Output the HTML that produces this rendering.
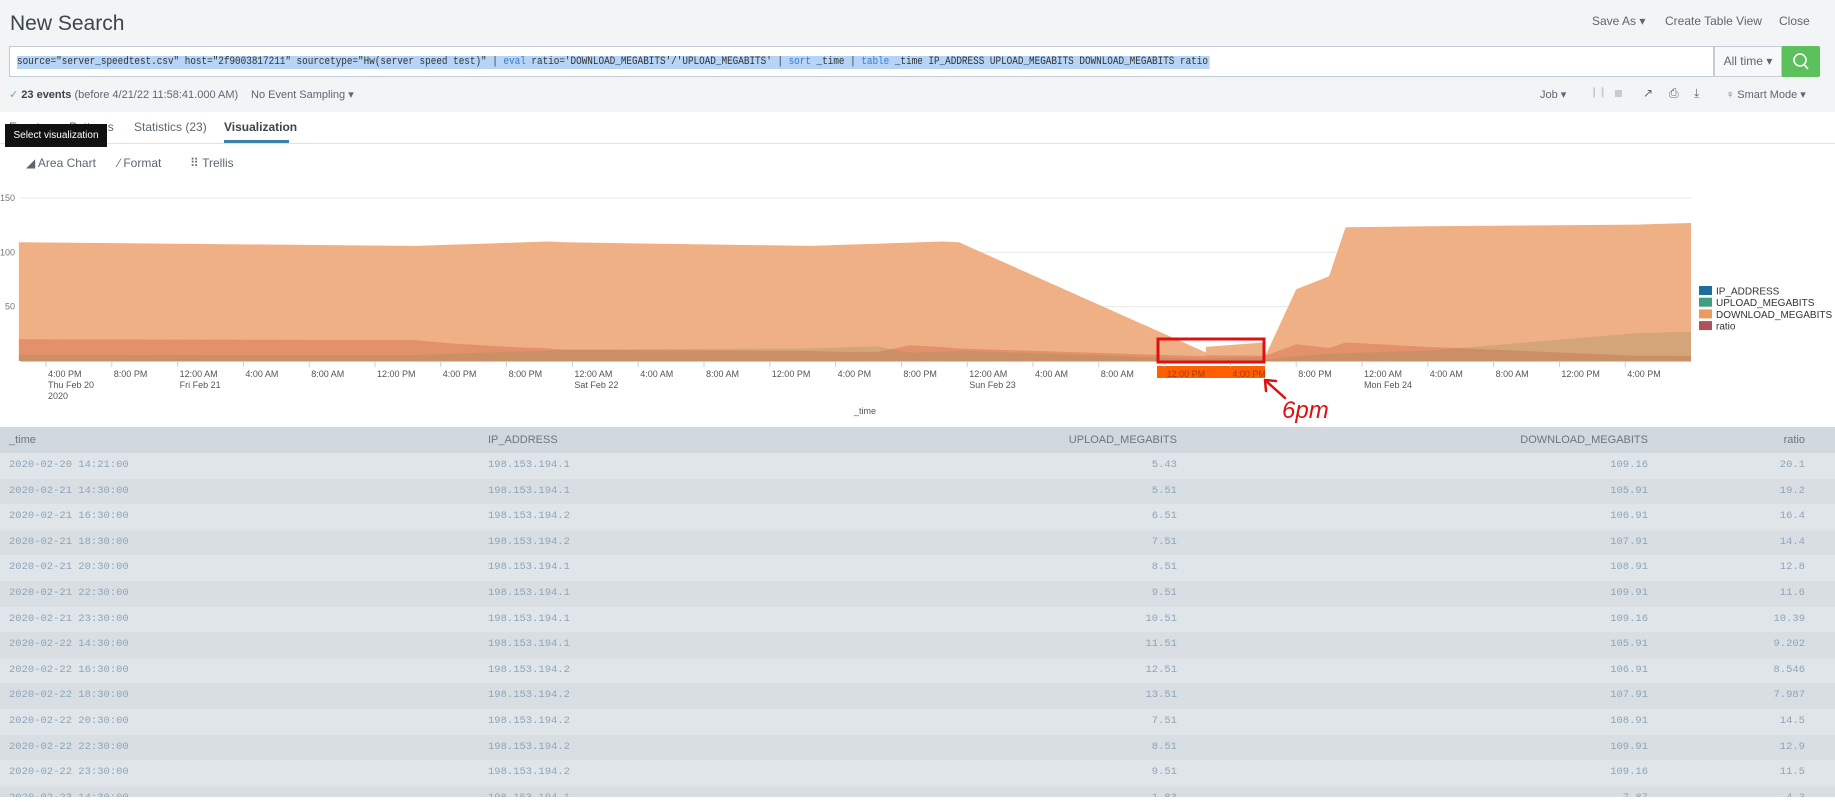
<!DOCTYPE html>
<html><head><meta charset="utf-8">
<style>
*{box-sizing:border-box;margin:0;padding:0}
body{width:1835px;height:802px;overflow:hidden;background:#fff;font-family:"Liberation Sans",sans-serif;color:#3c444d;position:relative}
.abs{position:absolute;white-space:nowrap}
#hdr{position:absolute;left:0;top:0;width:1835px;height:112px;background:#f2f4f5}
.t12{font-size:12px;color:#5c6773}
.mono{font-family:"Liberation Mono",monospace}
#tbl{position:absolute;left:0;top:427px;width:1835px;height:370px;overflow:hidden}
.row{position:absolute;left:0;width:1835px;height:25.6px;font-family:"Liberation Mono",monospace;font-size:10.5px;color:#8ba6ba;line-height:25.6px}
.row span{position:absolute}
</style></head>
<body>
<div id="hdr"></div>
<div class="abs" style="left:10px;top:12px;font-size:21px;color:#3c444d">New Search</div>
<div class="abs t12" style="left:1592px;top:14px">Save As ▾</div>
<div class="abs t12" style="left:1665px;top:14px">Create Table View</div>
<div class="abs t12" style="left:1779px;top:14px">Close</div>

<div class="abs" style="left:9px;top:46px;width:1705px;height:31px;background:#fff;border:1px solid #c3cbd4">
  <div class="abs mono" style="left:7px;top:9px;height:13px;background:#b6d4f6;font-size:11px;line-height:13px;color:#333;transform:scaleX(0.847);transform-origin:left top;padding-right:2px">source="server_speedtest.csv" host="2f9003817211" sourcetype="Hw(server speed test)" | <span style="color:#3c7bd0">eval</span> ratio='DOWNLOAD_MEGABITS'/'UPLOAD_MEGABITS' | <span style="color:#3c7bd0">sort</span> _time | <span style="color:#3c7bd0">table</span> _time IP_ADDRESS UPLOAD_MEGABITS DOWNLOAD_MEGABITS ratio</div>
</div>
<div class="abs t12" style="left:1714px;top:46px;width:68px;height:31px;border:1px solid #c3cbd4;background:#f7f8fa;line-height:29px;text-align:center">All time ▾</div>
<div class="abs" style="left:1782px;top:46px;width:38px;height:31px;background:#5cc05c;border-radius:0 2px 2px 0">
<svg width="38" height="31"><circle cx="18" cy="14" r="6" fill="none" stroke="#fff" stroke-width="1.6"/><line x1="22" y1="18.5" x2="26" y2="23" stroke="#fff" stroke-width="1.6"/></svg></div>

<div class="abs" style="left:9px;top:88px;font-size:11px;color:#5c6773"><span style="color:#5cc05c">✓</span> <b style="color:#3c444d">23 events</b> (before 4/21/22 11:58:41.000 AM)</div>
<div class="abs" style="left:251px;top:88px;font-size:11px;color:#5c6773">No Event Sampling ▾</div>
<div class="abs" style="left:1540px;top:88px;font-size:11px;color:#5c6773">Job ▾</div>
<div class="abs" style="left:1590px;top:87px;font-size:10px;color:#c3cbd4">❙❙</div>
<div class="abs" style="left:1615px;top:90px;width:7px;height:7px;background:#c3cbd4"></div>
<div class="abs" style="left:1643px;top:86px;font-size:12px;color:#5c6773">↗</div>
<div class="abs" style="left:1669px;top:86px;font-size:12px;color:#5c6773">⎙</div>
<div class="abs" style="left:1694px;top:86px;font-size:12px;color:#5c6773">⤓</div>
<div class="abs" style="left:1726px;top:88px;font-size:11px;color:#5c6773">♀ Smart Mode ▾</div>

<div class="abs" style="left:9px;top:120px;font-size:12px;color:#5c6773">Events</div>
<div class="abs" style="left:69px;top:120px;font-size:12px;color:#5c6773">Patterns</div>
<div class="abs" style="left:134px;top:120px;font-size:12px;color:#5c6773">Statistics (23)</div>
<div class="abs" style="left:224px;top:120px;font-size:12px;color:#3c444d;font-weight:bold">Visualization</div>
<div class="abs" style="left:224px;top:140px;width:65px;height:3px;background:#3d7fa6"></div>
<div class="abs" style="left:0;top:143px;width:1835px;height:1px;background:#dfe3e8"></div>
<div class="abs" style="left:5px;top:124px;width:102px;height:23px;background:#111;color:#fff;font-size:10px;line-height:23px;text-align:center">Select visualization</div>

<div class="abs" style="left:26px;top:156px;font-size:12px;color:#5c6773">◢ Area Chart</div>
<div class="abs" style="left:118px;top:156px;font-size:12px;color:#5c6773">⁄ Format</div>
<div class="abs" style="left:190px;top:156px;font-size:12px;color:#5c6773">⠿ Trellis</div>

<svg id="chart" class="abs" style="left:0;top:0" width="1835" height="425"></svg>

<div id="tbl"></div>

<script>
const times=["2020-02-20 14:21","2020-02-21 14:30","2020-02-21 16:30","2020-02-21 18:30","2020-02-21 20:30","2020-02-21 22:30","2020-02-21 23:30","2020-02-22 14:30","2020-02-22 16:30","2020-02-22 18:30","2020-02-22 20:30","2020-02-22 22:30","2020-02-22 23:30","2020-02-23 14:30","2020-02-23 14:31","2020-02-23 18:00","2020-02-23 18:10","2020-02-23 20:00","2020-02-23 22:00","2020-02-23 23:00","2020-02-24 04:00","2020-02-24 16:40","2020-02-24 20:00"];
const ipAddr=["198.153.194.1","198.153.194.1","198.153.194.2","198.153.194.2","198.153.194.1","198.153.194.1","198.153.194.1","198.153.194.1","198.153.194.2","198.153.194.2","198.153.194.2","198.153.194.2","198.153.194.2","198.153.194.1","198.153.194.1","198.153.194.2","198.153.194.2","198.153.194.1","198.153.194.1","198.153.194.1","198.153.194.2","198.153.194.2","198.153.194.2"];
const upload=[5.43,5.51,6.51,7.51,8.51,9.51,10.51,11.51,12.51,13.51,7.51,8.51,9.51,1.83,2.5,3.5,1.2,4.3,6.5,7.2,9.5,25.6,27];
const download=[109.16,105.91,106.91,107.91,108.91,109.91,109.16,105.91,106.91,107.91,108.91,109.91,109.16,7.87,13,17,6,66,78,123,124,125.5,127];
const ratio=[20.1,19.2,16.4,14.4,12.8,11.6,10.39,9.202,8.546,7.987,14.5,12.9,11.5,4.30,5.2,4.9,5,15.5,12,17,13,4.9,4.7];
const yTicks=[50,100,150];
const xTickLabels=["4:00 PM","8:00 PM","12:00 AM","4:00 AM","8:00 AM","12:00 PM","4:00 PM","8:00 PM","12:00 AM","4:00 AM","8:00 AM","12:00 PM","4:00 PM","8:00 PM","12:00 AM","4:00 AM","8:00 AM","12:00 PM","4:00 PM","8:00 PM","12:00 AM","4:00 AM","8:00 AM","12:00 PM","4:00 PM"];
const xTickDates=["Thu Feb 20","","Fri Feb 21","","","","","","Sat Feb 22","","","","","","Sun Feb 23","","","","","","Mon Feb 24","","","",""];
const legendNames=["IP_ADDRESS","UPLOAD_MEGABITS","DOWNLOAD_MEGABITS","ratio"];

const NS="http://www.w3.org/2000/svg";
const svg=document.getElementById('chart');
const X0=46,PXH=16.45,Y0=361,PXV=1.087,PL=21,PR=1691;
const T0=Date.UTC(2020,1,20,16,0);
function hrs(s){const [d,t]=s.split(' ');const [Y,M,D]=d.split('-').map(Number);const [h,m]=t.split(':').map(Number);return (Date.UTC(Y,M-1,D,h,m)-T0)/3600000;}
function xOf(s){return X0+hrs(s)*PXH;}
function xOfH(h){return X0+h*PXH;}
function yOf(v){return Y0-v*PXV;}
function mk(tag,attrs,txt){const e=document.createElementNS(NS,tag);for(const k in attrs)e.setAttribute(k,attrs[k]);if(txt!==undefined)e.textContent=txt;svg.appendChild(e);return e;}

yTicks.forEach(v=>{
  const g=mk('line',{x1:PL,x2:PR,y1:yOf(v),y2:yOf(v),stroke:'#e8e8e8','stroke-width':1});
  
  
  const t=mk('text',{x:15,y:yOf(v)+3,'text-anchor':'end','font-size':9,fill:'#777','font-family':'Liberation Sans'},String(v));
  
  
});

function area(vals,fill,name){
  let d='M'+xOf(times[0])+','+Y0;
  vals.forEach((v,i)=>{d+=' L'+xOf(times[i]).toFixed(1)+','+yOf(v).toFixed(1);});
  d+=' L'+xOf(times[times.length-1]).toFixed(1)+','+Y0+' Z';
  const p=mk('path',{d:d,fill:fill});
  
  
}
area(download,'rgb(240,176,134)','download-area');
area(ratio,'rgba(205,95,60,0.38)','ratio-area');
area(upload,'rgba(150,140,90,0.3)','upload-area');

const ax=mk('line',{x1:PL,x2:PR,y1:Y0+0.5,y2:Y0+0.5,stroke:'#ccc','stroke-width':1});



const hl=mk('rect',{x:1157,y:366,width:108,height:12,fill:'#ff5f00'});



xTickLabels.forEach((lab,i)=>{
  const x=xOfH(i*4);
  const tk=mk('line',{x1:x,x2:x,y1:Y0,y2:Y0+6,stroke:'#ccc'});
  
  
  const inHl=x>1157&&x<1265;
  const t=mk('text',{x:x+2,y:377,'font-size':9,fill:inHl?'#a83a00':'#555','font-family':'Liberation Sans'},lab);
  
  
  if(xTickDates[i]){
    const t2=mk('text',{x:x+2,y:388,'font-size':9,fill:'#555','font-family':'Liberation Sans'},xTickDates[i]);
    
    
  }
});
const yr=mk('text',{x:48,y:399,'font-size':9,fill:'#555','font-family':'Liberation Sans'},'2020');


const xt=mk('text',{x:854,y:414,'font-size':9,fill:'#555','font-family':'Liberation Sans'},'_time');



const box=mk('rect',{x:1158,y:339,width:106,height:23,fill:'none',stroke:'#e01010','stroke-width':3});


const arr=mk('path',{d:'M1285,398 L1265,380 M1265,380 L1266,391 M1265,380 L1276,381',fill:'none',stroke:'#e01010','stroke-width':2.5,'stroke-linecap':'round'});


const an=mk('text',{x:1282,y:418,'font-size':24,fill:'#e01010','font-family':'Liberation Sans','font-style':'italic'},'6pm');



const legCols=['#1e6f9e','#3f9e80','#ec9a60','#b0505a'];
legendNames.forEach((n,i)=>{
  const y=286+i*11.7;
  const r=mk('rect',{x:1699,y:y,width:13,height:9,fill:legCols[i]});
  
  
  const t=mk('text',{x:1716,y:y+8.5,'font-size':10,fill:'#333','font-family':'Liberation Sans'},n);
  
  
});

const tbl=document.getElementById('tbl');
const hd=document.createElement('div');


hd.style.cssText='position:absolute;left:0;top:0;width:1835px;height:26px;background:#d1d8de;font-size:11px;color:#6b7680;line-height:26px';
hd.innerHTML='<span style="position:absolute;left:9px">_time</span><span style="position:absolute;left:488px">IP_ADDRESS</span><span style="position:absolute;right:658px">UPLOAD_MEGABITS</span><span style="position:absolute;right:187px">DOWNLOAD_MEGABITS</span><span style="position:absolute;right:30px">ratio</span>';
tbl.appendChild(hd);
function fmt(s){return s+':00';}
for(let i=0;i<14;i++){
  const r=document.createElement('div');
  r.className='row';
  
  
  r.style.top=(26+i*25.6)+'px';
  r.style.background=i%2?'#d9dee3':'#e0e5e9';
  r.innerHTML='<span style="left:9px">'+fmt(times[i])+'</span><span style="left:488px">'+ipAddr[i]+'</span><span style="right:658px">'+upload[i]+'</span><span style="right:187px">'+download[i]+'</span><span style="right:30px">'+ratio[i]+'</span>';
  tbl.appendChild(r);
}
</script>
</body></html>
